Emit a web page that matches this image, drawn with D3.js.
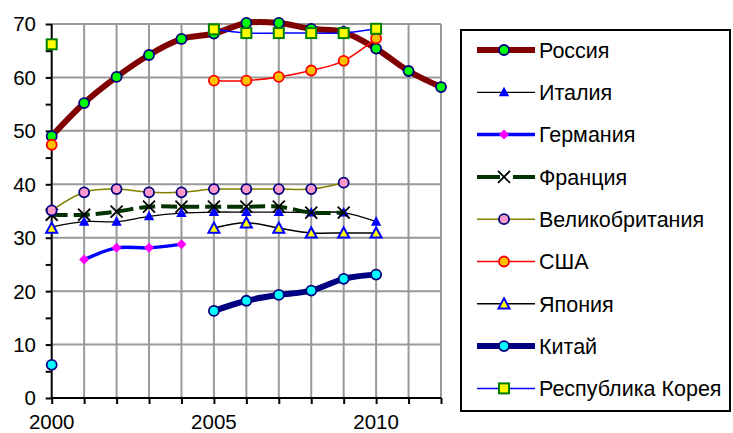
<!DOCTYPE html>
<html>
<head>
<meta charset="utf-8">
<script src="https://cdn.jsdelivr.net/npm/d3@7"></script>
<style>
  body { margin: 0; background: #fff; }
  svg { display: block; font-family: Arial, "Liberation Sans", sans-serif; }
</style>
</head>
<body>
<div id="chart"></div>
<script>
// years and series values (null = no data)
const years = [2000, 2001, 2002, 2003, 2004, 2005, 2006, 2007, 2008, 2009, 2010, 2011, 2012];
const russia  = [49, 55.2, 60.1, 64.2, 67.2, 68.2, 70.2, 70.2, 69.1, 68.5, 65.4, 61.2, 58.2];
const italy   = [32, 33, 33, 34, 34.6, 34.8, 34.8, 34.8, 34.7, 34.7, 33, null, null];
const germany = [null, 25.9, 28.1, 28.1, 28.8, null, null, null, null, null, null, null, null];
const france  = [34.3, 34.3, 34.9, 35.8, 35.8, 35.8, 35.8, 35.8, 34.7, 34.7, null, null, null];
const uk      = [35.1, 38.5, 39.1, 38.5, 38.5, 39.1, 39.1, 39.1, 39.1, 40.3, null, null, null];
const usa     = [47.4, null, null, null, null, 59.4, 59.4, 60.1, 61.3, 63.1, 67.3, null, null];
const japan   = [31.8, null, null, null, null, 31.8, 32.8, 31.8, 30.9, 30.9, 30.9, null, null];
const china   = [6.2, null, null, null, null, 16.3, 18.2, 19.3, 20.1, 22.3, 23.1, null, null];
const korea   = [66.2, null, null, null, null, 69, 68.3, 68.3, 68.3, 68.3, 69.1, null, null];

const names = ["Россия", "Италия", "Германия", "Франция", "Великобритания", "США", "Япония", "Китай", "Республика Корея"];
const yTicks = [0, 10, 20, 30, 40, 50, 60, 70];
const xLabels = [2000, 2005, 2010];

// styles per series
const series = [
  { name: names[0], values: russia,  color: "#800000", width: 6,   marker: "circle",   fill: "#00ff00", stroke: "#000080", size: 5 },
  { name: names[1], values: italy,   color: "#000000", width: 1.3, marker: "triangle", fill: "#0000ff", stroke: "#0000ff", size: 3.5 },
  { name: names[2], values: germany, color: "#0000ff", width: 3.5, marker: "diamond",  fill: "#ff00ff", stroke: "#ff00ff", size: 5 },
  { name: names[3], values: france,  color: "#003300", width: 4,   marker: "cross",    fill: "none",    stroke: "#000000", size: 6, dash: "16,6" },
  { name: names[4], values: uk,      color: "#808000", width: 1.5, marker: "circle",   fill: "#ff99cc", stroke: "#000080", size: 5 },
  { name: names[5], values: usa,     color: "#ff0000", width: 1.5, marker: "circle",   fill: "#ffc000", stroke: "#ff0000", size: 5 },
  { name: names[6], values: japan,   color: "#000000", width: 1.5, marker: "triangle", fill: "#ffff00", stroke: "#0000ff", size: 5.5 },
  { name: names[7], values: china,   color: "#000080", width: 6,   marker: "circle",   fill: "#00ffff", stroke: "#000080", size: 5 },
  { name: names[8], values: korea,   color: "#0000ff", width: 1.5, marker: "square",   fill: "#ffff00", stroke: "#008000", size: 5 }
];

const W = 733, H = 433;
const x = d3.scaleLinear().domain([2000, 2012]).range([51.7, 441]);
const y = d3.scaleLinear().domain([0, 70]).range([398, 24]);

const svg = d3.select("#chart").append("svg")
  .attr("width", W).attr("height", H);

// grid
const grid = svg.append("g");
grid.selectAll("line.v").data(d3.range(2001, 2013)).join("line")
  .attr("x1", d => x(d)).attr("x2", d => x(d))
  .attr("y1", y(0)).attr("y2", y(70))
  .attr("stroke", "#999").attr("stroke-width", 2);
grid.selectAll("line.h").data(yTicks.slice(1)).join("line")
  .attr("x1", x(2000)).attr("x2", x(2012))
  .attr("y1", d => y(d)).attr("y2", d => y(d))
  .attr("stroke", "#999").attr("stroke-width", 2);

// axes
const yAxis = svg.append("g").attr("transform", `translate(${x(2000)},0)`)
  .call(d3.axisLeft(y).tickValues(d3.range(0, 71, 5)).tickSize(6).tickFormat(""));
const xAxis = svg.append("g").attr("transform", `translate(0,${y(0)})`)
  .call(d3.axisBottom(x).tickValues(years).tickSize(6).tickFormat(""));
[yAxis, xAxis].forEach(a => {
  a.select(".domain").attr("stroke", "#000").attr("stroke-width", 2);
  a.selectAll(".tick line").attr("stroke", "#000").attr("stroke-width", 2);
});
yAxis.select(".domain").attr("d", `M0,${y(0)}V${y(70)}`);
xAxis.select(".domain").attr("d", `M${x(2000)},0H${x(2012)}`);

svg.append("g").selectAll("text").data(yTicks).join("text")
  .attr("x", 36).attr("y", d => y(d)).attr("dy", "0.36em")
  .attr("text-anchor", "end").attr("font-size", 20.5).text(d => d);
svg.append("g").selectAll("text").data(xLabels).join("text")
  .attr("x", d => x(d)).attr("y", 429)
  .attr("text-anchor", "middle").attr("font-size", 20.5).text(d => d);

// marker drawing
function drawMarker(g, s, cx, cy) {
  const r = s.size;
  if (s.marker === "circle") {
    g.append("circle").attr("cx", cx).attr("cy", cy).attr("r", r)
      .attr("fill", s.fill).attr("stroke", s.stroke).attr("stroke-width", 1.8);
  } else if (s.marker === "square") {
    g.append("rect").attr("x", cx - r).attr("y", cy - r).attr("width", 2 * r).attr("height", 2 * r)
      .attr("fill", s.fill).attr("stroke", s.stroke).attr("stroke-width", 2);
  } else if (s.marker === "triangle") {
    g.append("path").attr("d", `M${cx},${cy - r}L${cx + r},${cy + r * 0.85}L${cx - r},${cy + r * 0.85}Z`)
      .attr("fill", s.fill).attr("stroke", s.stroke).attr("stroke-width", 2);
  } else if (s.marker === "diamond") {
    g.append("path").attr("d", `M${cx},${cy - r}L${cx + r},${cy}L${cx},${cy + r}L${cx - r},${cy}Z`)
      .attr("fill", s.fill);
  } else if (s.marker === "cross") {
    g.append("path").attr("d", `M${cx - r},${cy - r}L${cx + r},${cy + r}M${cx + r},${cy - r}L${cx - r},${cy + r}`)
      .attr("stroke", s.stroke).attr("stroke-width", 1.8).attr("fill", "none");
  }
}

const line = d3.line()
  .defined(d => d[1] != null)
  .x(d => x(d[0])).y(d => y(d[1]))
  .curve(d3.curveCardinal.tension(0));

// series: lines then markers, in legend order
series.forEach(s => {
  const g = svg.append("g");
  const pts = years.map((yr, i) => [yr, s.values[i]]);
  g.append("path").datum(pts).attr("d", line)
    .attr("fill", "none").attr("stroke", s.color).attr("stroke-width", s.width)
    .attr("stroke-dasharray", s.dash || null).attr("stroke-linejoin", "round");
  pts.filter(p => p[1] != null).forEach(p => drawMarker(g, s, x(p[0]), y(p[1])));
});

// legend
const lg = svg.append("g");
lg.append("rect").attr("x", 461).attr("y", 30).attr("width", 269).attr("height", 381)
  .attr("fill", "#fff").attr("stroke", "#000").attr("stroke-width", 2);
series.forEach((s, i) => {
  const cy = 50 + i * 42.3;
  const row = lg.append("g");
  row.append("line").attr("x1", 477).attr("x2", 535).attr("y1", cy).attr("y2", cy)
    .attr("stroke", s.color).attr("stroke-width", s.width)
    .attr("stroke-dasharray", s.dash ? "23,13" : null);
  drawMarker(row, s, 504, cy);
  row.append("text").attr("x", 539).attr("y", cy).attr("dy", "0.36em")
    .attr("font-size", 21.5).text(s.name);
});
</script>
</body>
</html>
